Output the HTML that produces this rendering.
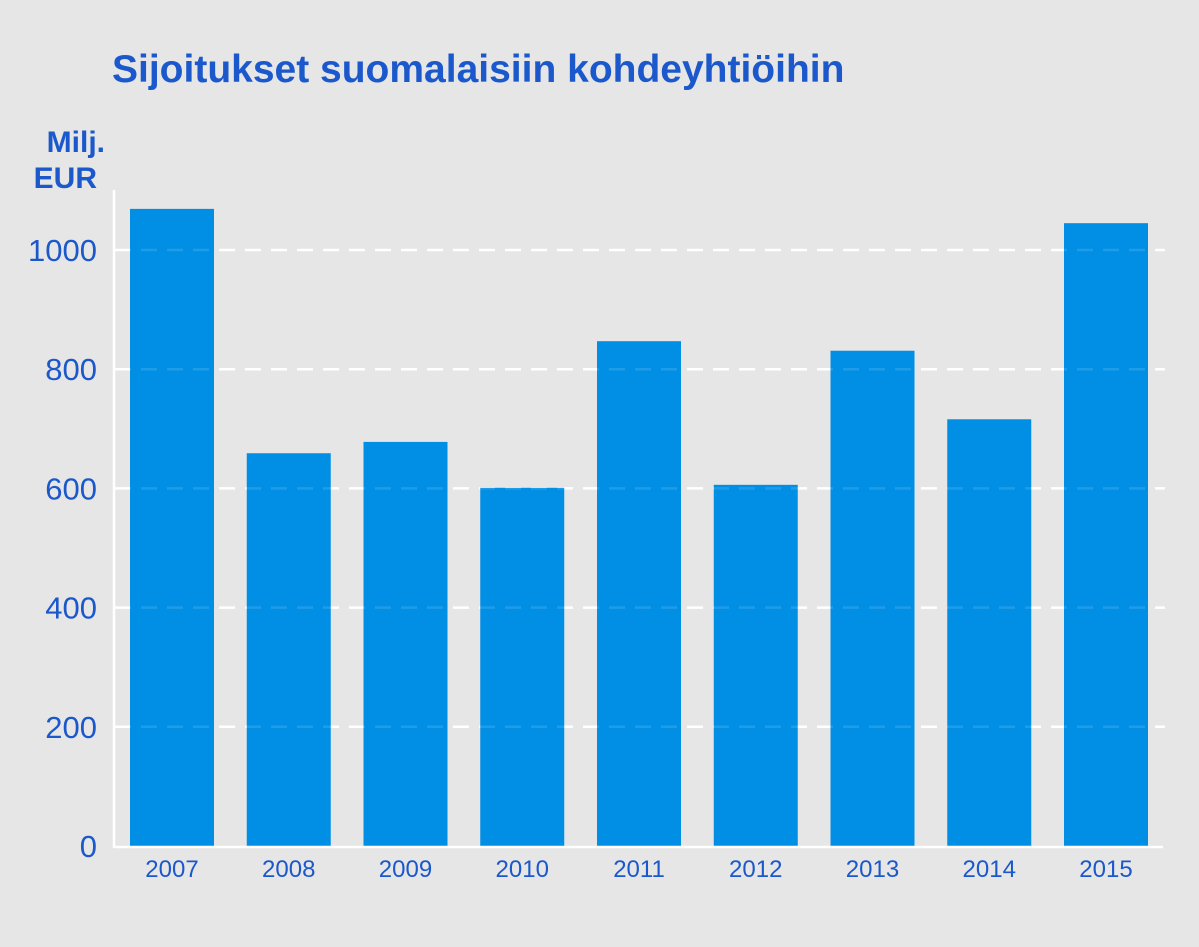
<!DOCTYPE html>
<html><head><meta charset="utf-8"><style>
html,body{margin:0;padding:0;background:#e6e6e6;}
svg{display:block;font-family:"Liberation Sans","DejaVu Sans",sans-serif;}
</style></head><body>
<svg id="chart" width="1199" height="947" viewBox="0 0 1199 947">
<rect width="1199" height="947" fill="#e6e6e6"/>
<text x="112" y="82" font-size="39" font-weight="bold" fill="#1b58cc">Sijoitukset suomalaisiin kohdeyhtiöihin</text>
<text x="105" y="152" font-size="30" font-weight="bold" fill="#1b58cc" text-anchor="end">Milj.</text>
<text x="97" y="188" font-size="30" font-weight="bold" fill="#1b58cc" text-anchor="end">EUR</text>
<g id="grid"></g>
<g id="bars"></g>
<g id="axes"></g>
</svg>
<script>
const categories = ["2007","2008","2009","2010","2011","2012","2013","2014","2015"];
const values = [1069, 659, 678, 601, 847, 606, 831, 716, 1045];
const yTicks = [0, 200, 400, 600, 800, 1000];

const NS = "http://www.w3.org/2000/svg";
const y0 = 846, pxPerUnit = 0.596;
function yScale(v){ return y0 - v * pxPerUnit; }
const xStart = 130, step = 116.75, barW = 84;
function xScale(i){ return xStart + i * step; }
function mk(tag, attrs, parent){ const e = document.createElementNS(NS, tag); for (const k in attrs) e.setAttribute(k, attrs[k]); parent.appendChild(e); return e; }

const grid = document.getElementById("grid");
const bars = document.getElementById("bars");
const axes = document.getElementById("axes");

yTicks.forEach(t => {
  if (t > 0) {
    const l = mk("line", {x1:115, x2:1165, y1:yScale(t), y2:yScale(t), stroke:"#ffffff", "stroke-width":2.5, "stroke-dasharray":"16 10"}, grid);
    
    
  }
  const tx = mk("text", {x:97, y:yScale(t)+11, "font-size":31, fill:"#1b58cc", "text-anchor":"end"}, axes);
  tx.textContent = t;
  
  
});

categories.forEach((c, i) => {
  const r = mk("rect", {x:xScale(i), y:yScale(values[i]), width:barW, height:y0 - yScale(values[i]), fill:"#008fe5"}, bars);
  
  
  const tx = mk("text", {x:xScale(i)+barW/2, y:877, "font-size":24, fill:"#1b58cc", "text-anchor":"middle"}, axes);
  tx.textContent = c;
  
  
});

// faint gridlines over bars
yTicks.forEach(t => {
  if (t > 0) {
    const l = mk("line", {x1:115, x2:1165, y1:yScale(t), y2:yScale(t), stroke:"#ffffff", "stroke-opacity":0.12, "stroke-width":2.5, "stroke-dasharray":"16 10"}, bars);
    
    
  }
});

const xa = mk("line", {x1:114, x2:1163, y1:y0+1, y2:y0+1, stroke:"#ffffff", "stroke-width":2.5}, axes);


const ya = mk("line", {x1:114, x2:114, y1:190, y2:y0+2, stroke:"#ffffff", "stroke-width":2.5}, axes);


</script>
</body></html>
